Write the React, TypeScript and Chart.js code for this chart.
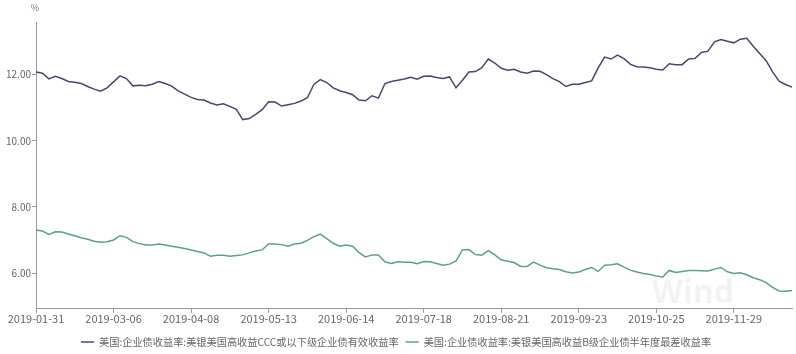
import React, { useEffect, useRef } from "react";
import { Chart, registerables } from "chart.js";

Chart.register(...registerables);

const TICK_LABELS = [
  "2019-01-31", "2019-03-06", "2019-04-08", "2019-05-13", "2019-06-14",
  "2019-07-18", "2019-08-21", "2019-09-23", "2019-10-25", "2019-11-29",
];
const POINTS_PER_TICK = 12;

const SERIES_CCC_NAME = "美国:企业债收益率:美银美国高收益CCC或以下级企业债有效收益率";
const SERIES_B_NAME = "美国:企业债收益率:美银美国高收益B级企业债半年度最差收益率";

const CCC_VALUES = [
  12.08, 12.04, 11.87, 11.95, 11.88, 11.79, 11.77, 11.73, 11.64, 11.56,
  11.5, 11.6, 11.78, 11.96, 11.88, 11.66, 11.68, 11.66, 11.71, 11.79,
  11.73, 11.65, 11.51, 11.41, 11.31, 11.25, 11.23, 11.14, 11.08, 11.12,
  11.04, 10.95, 10.64, 10.67, 10.8, 10.94, 11.18, 11.17, 11.05, 11.09,
  11.13, 11.2, 11.3, 11.7, 11.85, 11.76, 11.6, 11.51, 11.46, 11.39,
  11.23, 11.21, 11.36, 11.29, 11.73, 11.79, 11.83, 11.87, 11.92, 11.86,
  11.95, 11.96, 11.91, 11.88, 11.93, 11.6, 11.83, 12.08, 12.09, 12.21,
  12.47, 12.35, 12.19, 12.13, 12.16, 12.08, 12.04, 12.11, 12.1, 12.0,
  11.88, 11.79, 11.64, 11.71, 11.71, 11.76, 11.81, 12.2, 12.53, 12.47,
  12.59, 12.48, 12.31, 12.24, 12.23, 12.21, 12.16, 12.14, 12.33, 12.3,
  12.3, 12.47, 12.49, 12.67, 12.71, 12.99, 13.06, 13.01, 12.96, 13.07,
  13.1, 12.86, 12.64, 12.42, 12.08, 11.8, 11.7, 11.62,
];

const B_VALUES = [
  7.3, 7.27, 7.17, 7.25, 7.24, 7.18, 7.13, 7.07, 7.02, 6.96,
  6.93, 6.95, 7.0, 7.13, 7.08, 6.95, 6.89, 6.85, 6.85, 6.88,
  6.85, 6.81, 6.78, 6.74, 6.7, 6.65, 6.61, 6.51, 6.54, 6.54,
  6.51, 6.53, 6.55, 6.61, 6.67, 6.7, 6.88, 6.88, 6.86, 6.81,
  6.88, 6.9, 6.99, 7.1, 7.18, 7.04, 6.9, 6.81, 6.85, 6.81,
  6.62, 6.49, 6.55, 6.55, 6.34, 6.29, 6.34, 6.33, 6.33, 6.28,
  6.35, 6.34, 6.29, 6.24, 6.27, 6.37, 6.7, 6.71, 6.56, 6.54,
  6.68, 6.55, 6.4, 6.36, 6.32, 6.2, 6.2, 6.33, 6.24, 6.16,
  6.13, 6.11, 6.04, 6.0, 6.03, 6.11, 6.17, 6.05, 6.24, 6.25,
  6.28, 6.18, 6.09, 6.03, 5.99, 5.96, 5.91, 5.88, 6.08, 6.02,
  6.05, 6.08, 6.08, 6.07, 6.06, 6.12, 6.17, 6.04, 5.99, 6.01,
  5.95, 5.86, 5.8, 5.71, 5.57, 5.46, 5.45, 5.47,
];

const Y_TICKS = [6, 8, 10, 12];
const Y_MIN = 4.92;
const Y_MAX = 13.59;

const FONT = '"Noto Sans CJK SC", "Noto Sans", sans-serif';

export default function App() {
  const ref = useRef<HTMLCanvasElement | null>(null);

  useEffect(() => {
    document.body.style.margin = "0";
    if (!ref.current) return;
    const labels = CCC_VALUES.map((_, i) =>
      i % POINTS_PER_TICK === 0 && TICK_LABELS[i / POINTS_PER_TICK]
        ? TICK_LABELS[i / POINTS_PER_TICK]
        : String(i)
    );

    const extras = {
      id: "extras",
      beforeDatasetsDraw(chart: any) {
        const { ctx, chartArea } = chart;
        ctx.save();
        ctx.fillStyle = "rgba(0,0,0,0.05)";
        ctx.font = 'bold 32px "Open Sans", sans-serif';
        ctx.textAlign = "left";
        ctx.textBaseline = "alphabetic";
        ctx.fillText("Wind", 652, 303);
        ctx.restore();
        ctx.save();
        ctx.fillStyle = "#777";
        ctx.font = `9px ${FONT}`;
        ctx.textAlign = "center";
        ctx.textBaseline = "middle";
        ctx.fillText("%", chartArea.left - 1, 8);
        ctx.restore();
      },
    };

    const chart = new Chart(ref.current, {
      type: "line",
      data: {
        labels,
        datasets: [
          {
            label: SERIES_CCC_NAME,
            data: CCC_VALUES,
            borderColor: "#454873",
            backgroundColor: "#454873",
            borderWidth: 1.5,
            pointRadius: 0,
            tension: 0,
          },
          {
            label: SERIES_B_NAME,
            data: B_VALUES,
            borderColor: "#5c9f92",
            backgroundColor: "#5c9f92",
            borderWidth: 1.5,
            pointRadius: 0,
            tension: 0,
          },
        ],
      },
      options: {
        animation: false,
        responsive: false,
        devicePixelRatio: 1,
        layout: { padding: { left: 0, right: 4, top: 22, bottom: -3 } },
        plugins: {
          tooltip: { enabled: false },
          legend: {
            position: "bottom",
            labels: {
              usePointStyle: true,
              pointStyle: "line",
              pointStyleWidth: 13,
              boxHeight: 10,
              padding: 7,
              color: "#666",
              font: { family: FONT, size: 10.2 },
            },
          },
        },
        scales: {
          x: {
            type: "category",
            offset: false,
            afterFit: (s: any) => {
              s.height = 21;
            },
            afterBuildTicks: (s: any) => {
              s.ticks = s.ticks.filter((t: any) => t.value % POINTS_PER_TICK === 0);
            },
            grid: {
              display: true,
              drawOnChartArea: false,
              drawTicks: true,
              tickLength: 4,
              color: "#999",
            },
            border: { display: true, color: "#999" },
            ticks: {
              autoSkip: false,
              maxRotation: 0,
              padding: -1,
              color: "#666",
              font: { family: FONT, size: 11 },
              callback: (v: any) => TICK_LABELS[Number(v) / POINTS_PER_TICK] ?? "",
            },
          },
          y: {
            min: Y_MIN,
            max: Y_MAX,
            afterFit: (s: any) => {
              s.width = 36;
            },
            afterBuildTicks: (s: any) => {
              s.ticks = Y_TICKS.map((v) => ({ value: v }));
            },
            grid: {
              display: true,
              drawOnChartArea: false,
              drawTicks: true,
              tickLength: 4,
              color: "#999",
            },
            border: { display: true, color: "#999" },
            ticks: {
              padding: 1,
              color: "#666",
              font: { family: FONT, size: 10 },
              callback: (v: any) => Number(v).toFixed(2),
            },
          },
        },
      },
      plugins: [extras],
    });
    return () => chart.destroy();
  }, []);

  return (
    <div style={{ position: "absolute", left: 0, top: 0, width: 796, height: 354 }}>
      <canvas ref={ref} width={796} height={354} style={{ width: 796, height: 354 }} />
    </div>
  );
}
